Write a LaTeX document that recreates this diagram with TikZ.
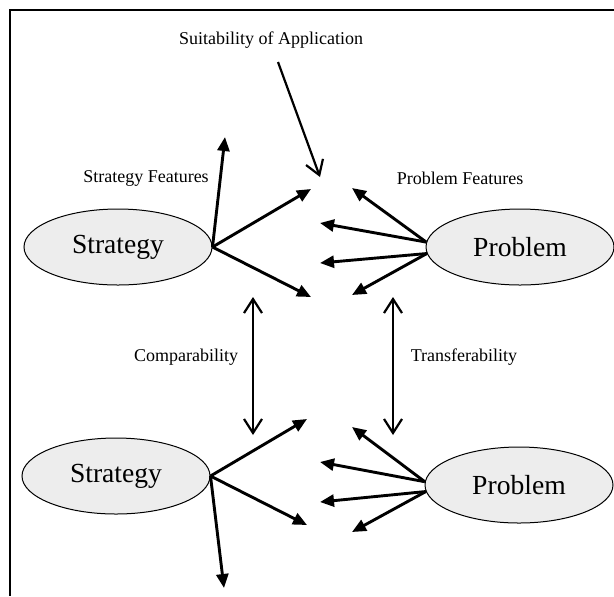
\documentclass[tikz,border=0pt]{standalone}
\usepackage{fontspec}
\setmainfont{Liberation Serif}
\usetikzlibrary{arrows.meta,shapes.geometric}

\begin{document}
\begin{tikzpicture}[x=0.5pt,y=-0.5pt,
    bar/.tip={Straight Barb[length=7pt,width=9pt]},
    ell/.style={ellipse,draw,line width=0.5pt,fill=black!7,minimum width=94pt,minimum height=38pt,inner sep=0pt,font=\fontsize{13.8}{16}\selectfont},
    lbl/.style={font=\fontsize{9}{11}\selectfont},
    feat/.style={line width=1.45pt,-{Triangle[length=7pt,width=6pt]}},
    link/.style={line width=1.1pt,-bar}]
  \useasboundingbox (0,0) rectangle (614,596);
  \draw[line width=0.9pt] (614,10) -- (10,10) -- (10,596);

  \node[ell] (sA) at (118,247) {Strategy};
  \node[ell] (pA) at (520,247) {Problem};
  \node[ell] (sB) at (116,476) {Strategy};
  \node[ell] (pB) at (519,485) {Problem};

  \node[lbl] (suit) at (271,40) {Suitability of Application};
  \node[lbl] (sfeat) at (146,178) {Strategy Features};
  \node[lbl] (pfeat) at (460,178) {Problem Features};
  \node[lbl] (comp) at (186,357) {Comparability};
  \node[lbl] (trans) at (464,357) {Transferability};

  \coordinate (suitTail) at (278,62);
  \coordinate (suitTip) at (320,177);
  \draw[link] (suitTail) -- (suitTip);

  \coordinate (s1u) at (225,137);
  \coordinate (s1a) at (311,189);
  \coordinate (s1b) at (311,297);
  \foreach \t in {s1u,s1a,s1b}
    \draw[feat] (sA.east) -- (\t);
  \coordinate (p1a) at (352,188);
  \coordinate (p1b) at (320,223);
  \coordinate (p1c) at (320,263);
  \coordinate (p1d) at (352,295);
  \draw[feat] (pA.177) -- (p1a);
  \draw[feat] (pA.177) -- (p1b);
  \draw[feat] (pA.184) -- (p1c);
  \draw[feat] (pA.184) -- (p1d);

  \coordinate (compTop) at (253,297);
  \coordinate (compBot) at (253,435);
  \coordinate (transTop) at (393,297);
  \coordinate (transBot) at (393,435);
  \draw[link,bar-bar] (compTop) -- (compBot);
  \draw[link,bar-bar] (transTop) -- (transBot);

  \coordinate (s2a) at (307,419);
  \coordinate (s2b) at (307,525);
  \coordinate (s2d) at (224,588);
  \foreach \t in {s2a,s2b,s2d}
    \draw[feat] (sB.east) -- (\t);
  \coordinate (p2a) at (352,427);
  \coordinate (p2b) at (320,462);
  \coordinate (p2c) at (320,502);
  \coordinate (p2d) at (352,532);
  \draw[feat] (pB.178) -- (p2a);
  \draw[feat] (pB.178) -- (p2b);
  \draw[feat] (pB.184) -- (p2c);
  \draw[feat] (pB.184) -- (p2d);
\end{tikzpicture}
\end{document}
